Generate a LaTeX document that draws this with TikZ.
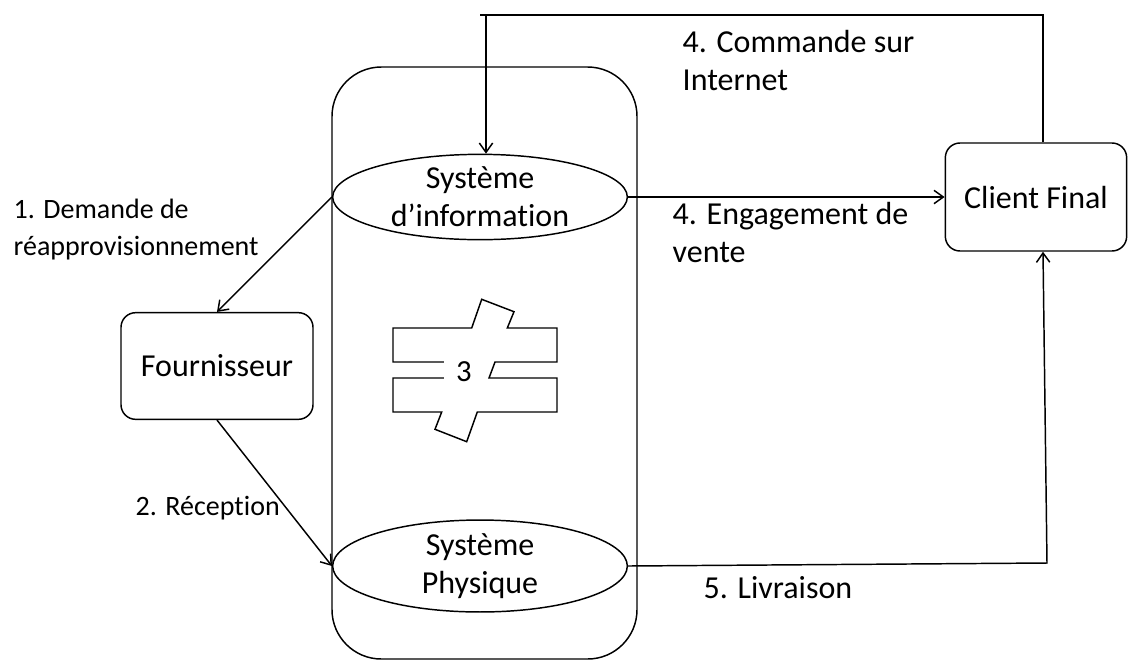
\documentclass[tikz,border=0pt]{standalone}
\usepackage{fontspec}
\setmainfont{Carlito}[Ligatures=NoCommon]
\usetikzlibrary{shapes.geometric,arrows.meta}
\tikzset{
	bulle/.style={ellipse,draw,minimum width=221pt,minimum height=64pt,inner sep=0pt,align=center,font=\fontsize{24}{28.5}\selectfont},
	boite/.style={draw,rounded corners=11pt,inner sep=0pt,font=\fontsize{24}{28.5}\selectfont},
	etiquette/.style={inner sep=0pt,align=left,anchor=base west,font=\fontsize{21}{27.75}\selectfont},
	grande etiquette/.style={etiquette,font=\fontsize{24}{28}\selectfont}
}
\begin{document}
	\begin{tikzpicture}[x=0.75pt,y=-0.75pt,line width=1.1pt,>={Straight Barb[length=7pt,width=10pt]}]
		\useasboundingbox (0,0) rectangle (1129,662);
		\draw[rounded corners=37pt] (332,67) rectangle (637,659);
		\node[bulle] (si) at (480,197) {Système\\d’information};
		\node[bulle] (sp) at (480,566) {Système\\Physique};
		\node[boite,minimum width=144pt,minimum height=80pt] (four) at (217,366) {Fournisseur};
		\node[boite,minimum width=136pt,minimum height=81pt] (cf) at (1036,197) {Client Final};
		\draw (481.7,299.3) -- (514,311.7) -- (507.3,328) -- (557,328) -- (557,362) -- (495,362) -- (489,378) -- (557,378) -- (557,412) -- (477.3,412) -- (466.7,441.7) -- (435,429.3) -- (441.7,412) -- (393,412) -- (393,378) -- (453.7,378) -- (459.5,362) -- (393,362) -- (393,328) -- (471.7,328) -- cycle;
		\node[fill=white,inner sep=0pt,minimum width=30pt,minimum height=26pt,font=\fontsize{23}{26}\selectfont] (trois) at (464,372) {3};
		\coordinate (hautG) at (480,15);
		\coordinate (hautD) at (1043,15);
		\coordinate (descente) at (486,15);
		\coordinate (livr) at (1047,563);
		\draw (cf.north -| hautD) -- (hautD) -- (hautG);
		\draw[->] (descente) -- (descente |- si.north);
		\draw[->] (si.east) -- (cf.west |- si.east);
		\draw[->] (sp.east) -- (livr) -- (cf.south -| hautD);
		\draw[->] (si.west) -- (four.north);
		\draw[->] (four.south) -- (sp.west);
		\node[etiquette] (l1) at (13,255) {1. Demande de\\réapprovisionnement};
		\node[etiquette] (l2) at (135,515) {2. Réception};
		\node[grande etiquette] (l4a) at (682,90) {4. Commande sur\\Internet};
		\node[grande etiquette] (l4b) at (672,262) {4. Engagement de\\vente};
		\node[grande etiquette] (l5) at (703,598) {5. Livraison};
	\end{tikzpicture}
\end{document}
